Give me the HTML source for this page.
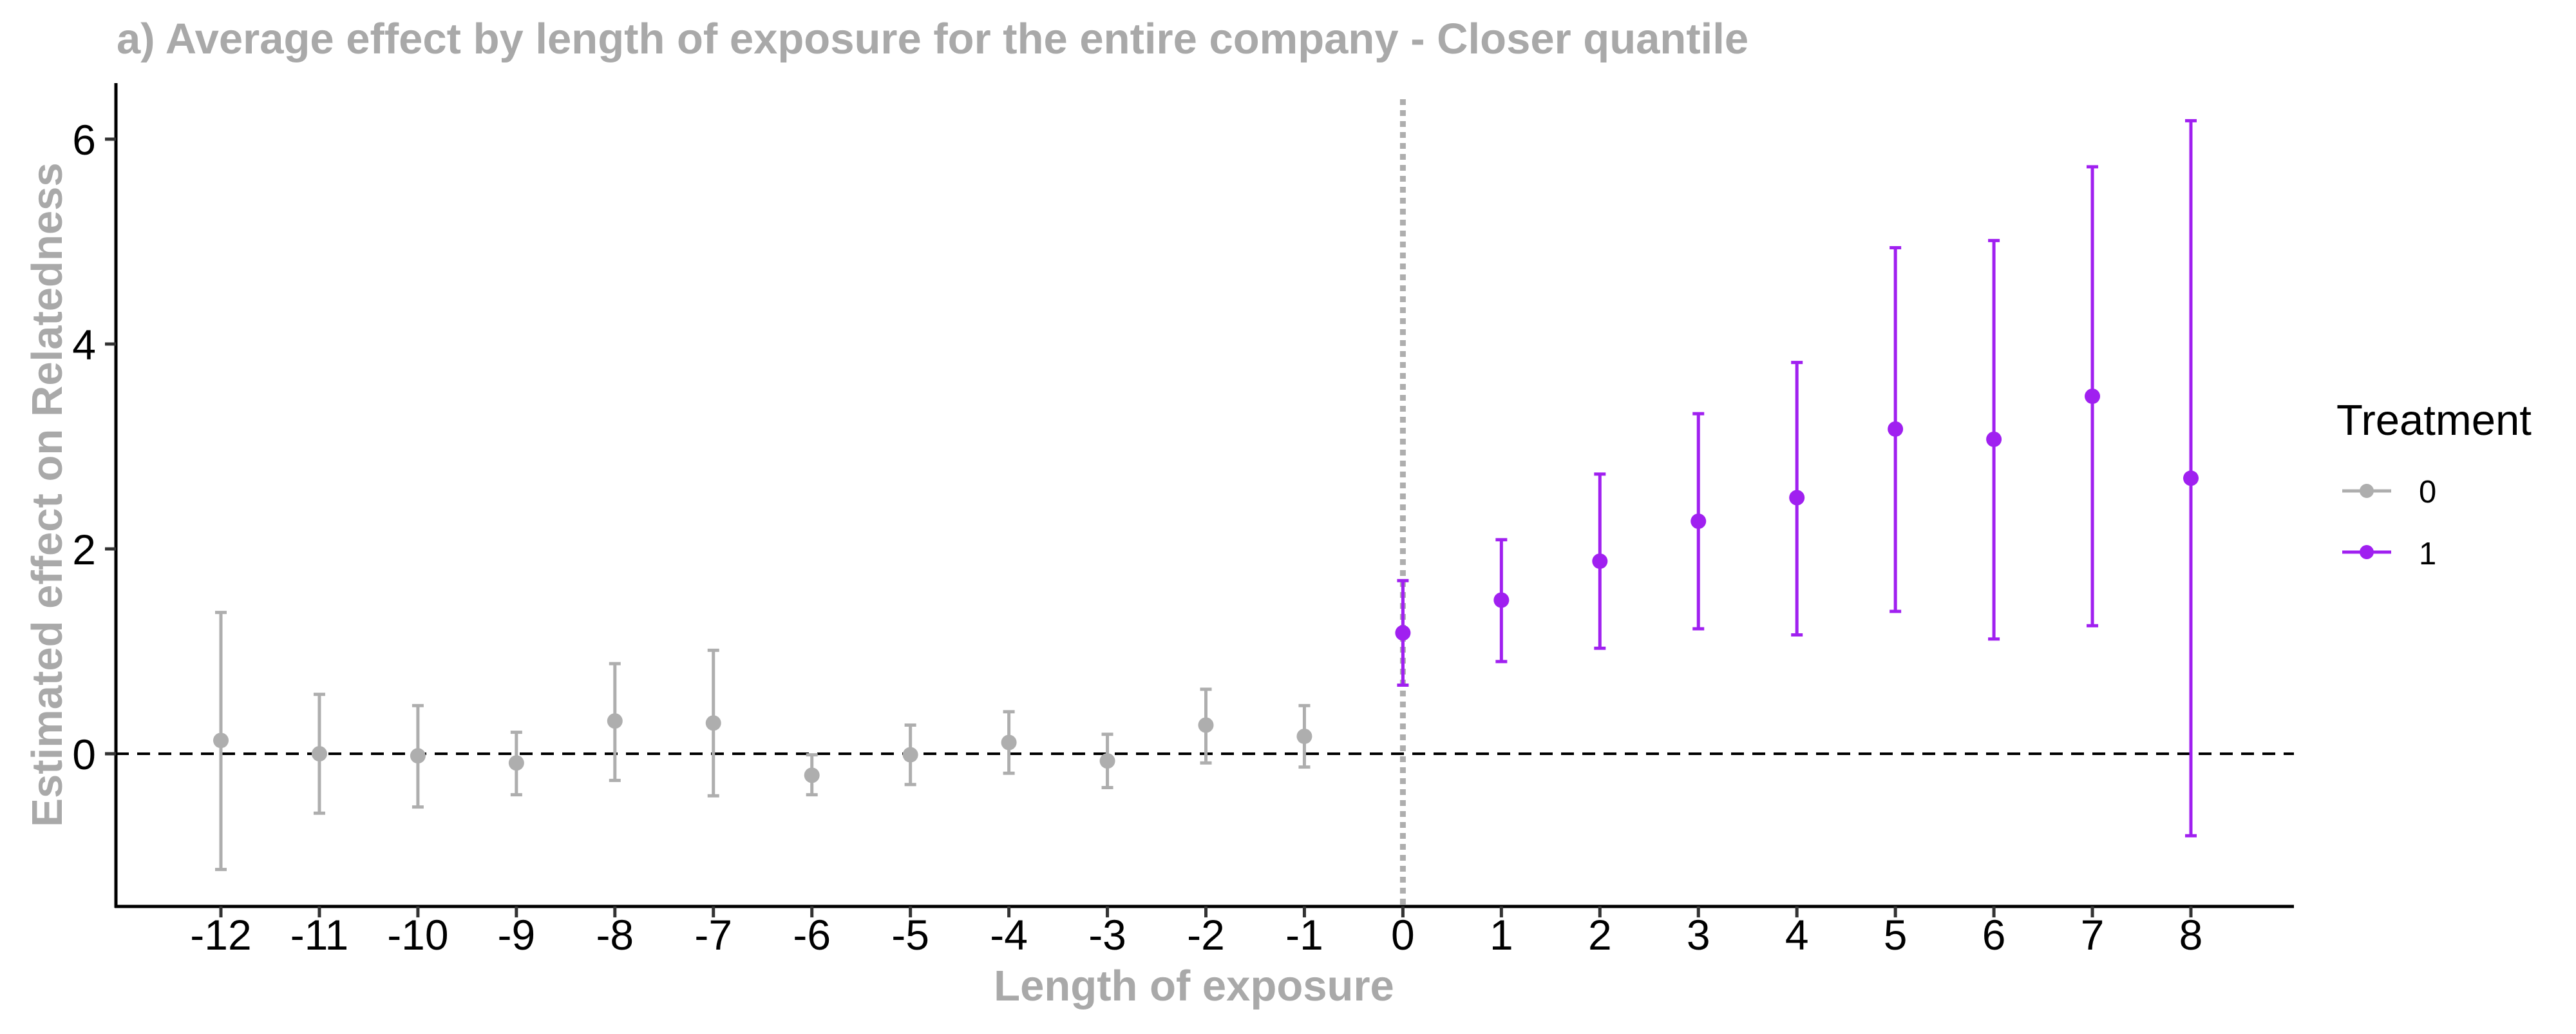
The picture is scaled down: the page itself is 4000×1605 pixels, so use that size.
<!DOCTYPE html>
<html><head><meta charset="utf-8"><style>
body{margin:0;background:#fff;}
svg text{font-family:"Liberation Sans",Arial,sans-serif;}
</style></head><body>
<svg id="chart" width="4000" height="1600" viewBox="0 0 4000 1600" xmlns="http://www.w3.org/2000/svg">
<text x="181" y="83" font-size="67" font-weight="bold" fill="#A9A9A9">a) Average effect by length of exposure for the entire company - Closer quantile</text>
<g id="plot"></g>
<text x="1854" y="1553" font-size="67" font-weight="bold" fill="#A9A9A9" text-anchor="middle">Length of exposure</text>
<text transform="translate(96,768) rotate(-90)" font-size="67" font-weight="bold" fill="#A9A9A9" text-anchor="middle">Estimated effect on Relatedness</text>
<g>
<text x="3628" y="675" font-size="67" fill="#000">Treatment</text>
<g>
<line x1="3637" y1="762" x2="3713" y2="762" stroke="#AEAEAE" stroke-width="5"/>
<circle cx="3675" cy="762" r="11" fill="#AEAEAE"/>
<text x="3756" y="780" font-size="49" fill="#000">0</text>
</g>
<g>
<line x1="3637" y1="857" x2="3713" y2="857" stroke="#A020F0" stroke-width="5"/>
<circle cx="3675" cy="857" r="11" fill="#A020F0"/>
<text x="3756" y="876" font-size="49" fill="#000">1</text>
</g>
</g>
</svg>
<script>
const periods = [-12,-11,-10,-9,-8,-7,-6,-5,-4,-3,-2,-1,0,1,2,3,4,5,6,7,8];
const estimates = [0.13,0.0,-0.02,-0.09,0.32,0.30,-0.21,-0.01,0.11,-0.07,0.28,0.17,1.18,1.50,1.88,2.27,2.50,3.17,3.07,3.49,2.69];
const lowerCI = [-1.13,-0.58,-0.52,-0.40,-0.26,-0.41,-0.40,-0.30,-0.19,-0.33,-0.09,-0.13,0.67,0.90,1.03,1.22,1.16,1.39,1.12,1.25,-0.80];
const upperCI = [1.38,0.58,0.47,0.21,0.88,1.01,-0.01,0.28,0.41,0.19,0.63,0.47,1.69,2.09,2.73,3.32,3.82,4.94,5.01,5.73,6.18];
const yTicks = [0,2,4,6];
const NS="http://www.w3.org/2000/svg";
const g=document.getElementById('plot');
const L=180,R=3562,T=129,B=1407;
function xs(v){return 343+(v+12)*152.95;}
function ys(v){return 1170-v*159;}
function mk(tag,attrs){const e=document.createElementNS(NS,tag);for(const k in attrs)e.setAttribute(k,attrs[k]);g.appendChild(e);return e;}
let e=mk('line',{x1:L,y1:T,x2:L,y2:B+2,stroke:'#000','stroke-width':5});


e=mk('line',{x1:L-2,y1:B,x2:R,y2:B,stroke:'#000','stroke-width':5});


yTicks.forEach(v=>{
  const y=ys(v);
  let t=mk('line',{x1:L-17,y1:y,x2:L,y2:y,stroke:'#333','stroke-width':5});
  
  
  let tx=mk('text',{x:L-31,y:y+24,'font-size':66,'text-anchor':'end',fill:'#000'});
  tx.textContent=v;
  
  
});
periods.forEach(v=>{
  const x=xs(v);
  let t=mk('line',{x1:x,y1:B,x2:x,y2:B+17,stroke:'#333','stroke-width':5});
  
  
  let tx=mk('text',{x:x,y:1474,'font-size':66,'text-anchor':'middle',fill:'#000'});
  tx.textContent=v;
  
  
});
e=mk('line',{x1:L,y1:ys(0),x2:R,y2:ys(0),stroke:'#000','stroke-width':4,'stroke-dasharray':'20 13'});


e=mk('line',{x1:xs(0),y1:T+25,x2:xs(0),y2:B,stroke:'#AEAEAE','stroke-width':9,'stroke-dasharray':'9 8'});


periods.forEach((p,i)=>{
  const col=p>=0?'#A020F0':'#AEAEAE';
  const x=xs(p);
  let ln=mk('line',{x1:x,y1:ys(lowerCI[i]),x2:x,y2:ys(upperCI[i]),stroke:col,'stroke-width':5});
  
  
  [lowerCI[i],upperCI[i]].forEach(c=>{
    let cp=mk('line',{x1:x-9,y1:ys(c),x2:x+9,y2:ys(c),stroke:col,'stroke-width':5});
    
    
  });
  let pt=mk('circle',{cx:x,cy:ys(estimates[i]),r:12,fill:col});
  
  
});
</script>
</body></html>
